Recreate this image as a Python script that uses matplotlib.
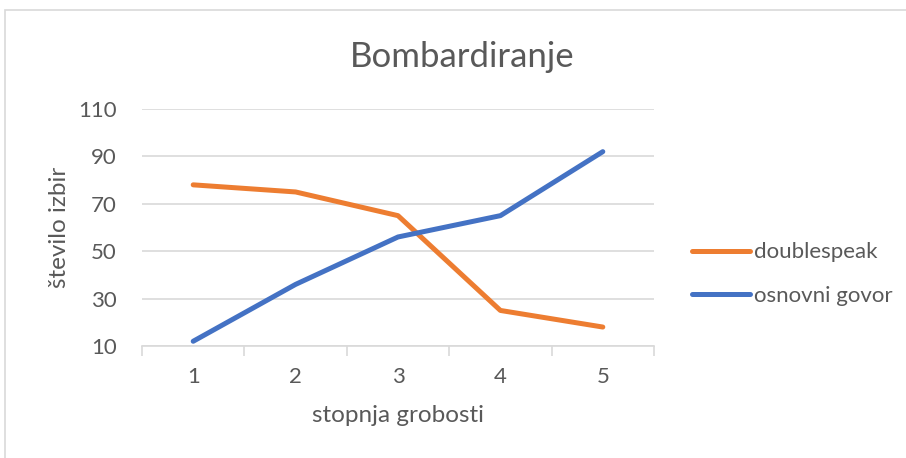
import matplotlib
matplotlib.use("Agg")
import matplotlib.pyplot as plt
from matplotlib.patches import Rectangle

categories = [1, 2, 3, 4, 5]
doublespeak = [78, 75, 65, 25, 18]
osnovni_govor = [12, 36, 56, 65, 92]
yticks = [10, 30, 50, 70, 90, 110]

plt.rcParams['font.family'] = ['Lato', 'DejaVu Sans']
TXT = '#595959'
GRID = '#D9D9D9'

fig = plt.figure(figsize=(9.06, 4.58), dpi=100)
fig.patch.set_facecolor('white')
fig.patches.append(Rectangle((5/906, -0.1), 1.2, 1 - 10/458 + 0.1, transform=fig.transFigure,
                             fill=False, edgecolor=GRID, linewidth=1.2))

ax = fig.add_axes([142/906, 1 - 346/458, 512/906, (346 - 109)/458])
ax.plot(categories, doublespeak, color='#ED7D31', lw=3.6, solid_capstyle='round',
        solid_joinstyle='round', label='doublespeak', zorder=3)
ax.plot(categories, osnovni_govor, color='#4472C4', lw=3.6, solid_capstyle='round',
        solid_joinstyle='round', label='osnovni govor', zorder=3)

ax.set_xlim(0.5, 5.5)
ax.set_ylim(10, 110)
ax.set_yticks(yticks)
ax.set_xticks(categories)
ax.set_xticks([c - 0.5 for c in categories] + [categories[-1] + 0.5], minor=True)
ax.tick_params(axis='x', which='major', length=0, pad=15, labelsize=16, labelcolor=TXT)
ax.tick_params(axis='x', which='minor', length=7, color=GRID, width=1.2)
ax.tick_params(axis='y', length=0, pad=18, labelsize=16, labelcolor=TXT)
ax.grid(axis='y', color=GRID, lw=1.2, zorder=0)
for s in ['top', 'right', 'left']:
    ax.spines[s].set_visible(False)
ax.spines['bottom'].set_color(GRID)
ax.spines['bottom'].set_linewidth(1.2)
ax.set_axisbelow(True)

ax.set_xlabel('stopnja grobosti', fontsize=17.5, color=TXT, labelpad=13)
ax.set_ylabel('število izbir', fontsize=17.5, color=TXT, labelpad=6)
fig.text(462/906, 1 - 57/458, 'Bombardiranje', fontsize=25, color=TXT, ha='center', va='center')

leg = fig.legend(loc='center left', bbox_to_anchor=(672/906, 1 - 274/458), frameon=False,
                 fontsize=16, handlelength=2.6, handletextpad=0.2, labelspacing=1.05)
for t in leg.get_texts():
    t.set_color(TXT)

fig.savefig('out.png', dpi=100)
